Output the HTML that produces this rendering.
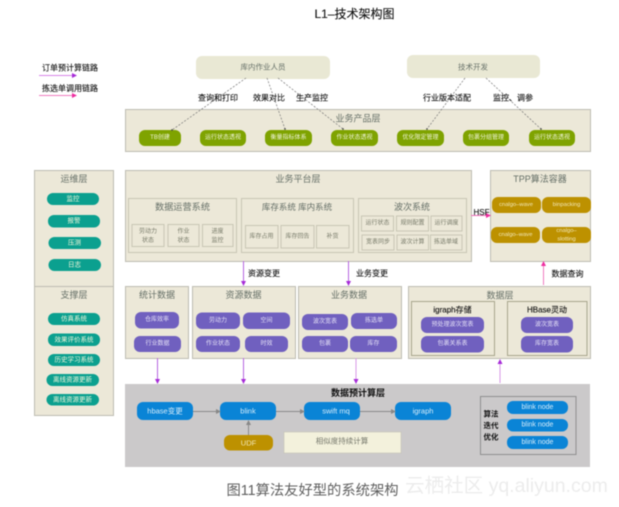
<!DOCTYPE html>
<html><head><meta charset="utf-8"><style>
html,body{margin:0;padding:0;background:#fff;width:619px;height:507px;overflow:hidden}
svg{display:block;filter:blur(.4px)}
text{font-family:"Liberation Sans","Noto Sans CJK SC",sans-serif;text-anchor:middle;dominant-baseline:central}
.b{fill:#ece8d8;stroke:#bdbcb2;stroke-width:1}
.i{fill:#ece8d8;stroke:#c8c6b4;stroke-width:1}
.h{fill:#667068}
.k{fill:#111;stroke:#111;stroke-width:.12}
.w{fill:#f0f5da}
.dash{stroke:#777;stroke-width:.7;stroke-dasharray:2 1.5;fill:none}
</style></head><body>
<svg width="619" height="507" viewBox="0 0 619 507" xmlns="http://www.w3.org/2000/svg">
<defs>
<marker id="mp" markerWidth="5" markerHeight="5" refX="4" refY="2.5" orient="auto"><path d="M0 0L5 2.5L0 5z" fill="#a62bd8"/></marker>
<marker id="mk" markerWidth="5" markerHeight="5" refX="4" refY="2.5" orient="auto"><path d="M0 0L5 2.5L0 5z" fill="#ee2ea0"/></marker>
<marker id="mg" markerWidth="5" markerHeight="5" refX="4" refY="2.5" orient="auto"><path d="M0 0L5 2.5L0 5z" fill="#888"/></marker>
<marker id="md" markerWidth="3" markerHeight="3" refX="1.5" refY="1.5"><circle cx="1.5" cy="1.5" r="1.2" fill="#444"/></marker>
</defs>

<text x="354.500" y="14" font-size="12" class="k">L1–技术架构图</text>

<text x="70" y="68" font-size="8" class="k">订单预计算链路</text>
<line x1="39" y1="75.500" x2="76" y2="75.500" stroke="#d884ea" stroke-width="1" marker-end="url(#mp)"/>
<text x="70" y="88.500" font-size="8" class="k">拣选单调用链路</text>
<line x1="39" y1="95.500" x2="76" y2="95.500" stroke="#f07cc0" stroke-width="1" marker-end="url(#mk)"/>

<rect x="196" y="56" width="134" height="23" rx="6" fill="#e9e8d4"/>
<text x="263" y="67" font-size="7.500" class="h">库内作业人员</text>
<rect x="407" y="55" width="133" height="23" rx="6" fill="#e9e8d4"/>
<text x="473" y="67" font-size="7.500" class="h">技术开发</text>

<rect x="125.500" y="109.500" width="465" height="42" class="b"/>
<text x="358" y="118.500" font-size="9" class="h">业务产品层</text>
<g fill="#7fa300">
<rect x="139" y="130" width="42" height="16" rx="6"/>
<rect x="200" y="130" width="46" height="16" rx="6"/>
<rect x="265" y="130" width="47" height="16" rx="6"/>
<rect x="331" y="130" width="47" height="16" rx="6"/>
<rect x="397" y="130" width="47" height="16" rx="6"/>
<rect x="463" y="130" width="46" height="16" rx="6"/>
<rect x="529" y="130" width="46" height="16" rx="6"/>
</g>
<g font-size="6">
<text x="160" y="138" class="w">TB创建</text>
<text x="223" y="138" class="w">运行状态透视</text>
<text x="288.500" y="138" class="w">衡量指标体系</text>
<text x="354.500" y="138" class="w">作业状态透视</text>
<text x="420.500" y="138" class="w">优化限定管理</text>
<text x="486" y="138" class="w">包裹分组管理</text>
<text x="552" y="138" class="w">运行状态透视</text>
</g>

<line x1="246" y1="78" x2="172" y2="130" class="dash" marker-end="url(#md)"/>
<line x1="267" y1="78" x2="285" y2="129" class="dash" marker-end="url(#md)"/>
<line x1="278" y1="78" x2="343" y2="129" class="dash" marker-end="url(#md)"/>
<line x1="465" y1="78" x2="427" y2="129" class="dash" marker-end="url(#md)"/>
<line x1="486" y1="78" x2="541" y2="129" class="dash" marker-end="url(#md)"/>

<g font-size="8">
<text x="218" y="98" class="k">查询和打印</text>
<text x="269" y="98" class="k">效果对比</text>
<text x="312" y="98" class="k">生产监控</text>
<text x="447" y="98" class="k">行业版本适配</text>
<text x="513" y="98" class="k">监控、调参</text>
</g>

<rect x="34.500" y="170.500" width="79" height="116" class="b"/>
<rect x="34.500" y="286.500" width="79" height="129" class="b"/>
<text x="74" y="179" font-size="9" class="h">运维层</text>
<text x="74" y="295" font-size="9" class="h">支撑层</text>
<g fill="#0ba08f">
<rect x="47" y="193" width="52" height="12" rx="6"/>
<rect x="48" y="215" width="52" height="12.500" rx="6"/>
<rect x="48.500" y="237" width="52.500" height="12" rx="6"/>
<rect x="48.500" y="259" width="52.500" height="12" rx="6"/>
<rect x="48" y="313" width="52" height="12" rx="6"/>
<rect x="48" y="333.500" width="52" height="12.500" rx="6"/>
<rect x="48" y="354" width="52" height="12" rx="6"/>
<rect x="46.500" y="374" width="52.500" height="12" rx="6"/>
<rect x="46.500" y="394" width="52.500" height="11.500" rx="6"/>
</g>
<g font-size="6.500">
<text x="73" y="199" class="w">监控</text>
<text x="74" y="221" class="w">报警</text>
<text x="74.500" y="243" class="w">压测</text>
<text x="74.500" y="265" class="w">日志</text>
<text x="74" y="319" class="w">仿真系统</text>
<text x="74" y="340" class="w">效果评价系统</text>
<text x="74" y="360" class="w">历史学习系统</text>
<text x="72.500" y="380" class="w">离线资源更新</text>
<text x="72.500" y="400" class="w">离线资源更新</text>
</g>

<rect x="125.500" y="170.500" width="346" height="91" class="b"/>
<text x="298" y="179" font-size="9" class="h">业务平台层</text>
<g>
<rect x="128.500" y="198.500" width="108" height="54" class="i"/>
<rect x="241.500" y="198.500" width="112" height="54" class="i"/>
<rect x="358.500" y="198.500" width="108" height="54" class="i"/>
<rect x="132" y="224.500" width="32" height="22" class="i"/>
<rect x="168" y="224.500" width="31" height="22" class="i"/>
<rect x="202.500" y="224.500" width="30.500" height="22" class="i"/>
<rect x="245.500" y="225.500" width="32.500" height="22.500" class="i"/>
<rect x="281" y="225.500" width="33" height="22.500" class="i"/>
<rect x="316.500" y="225.500" width="32.500" height="22.500" class="i"/>
<rect x="361.500" y="216" width="32" height="15" class="i"/>
<rect x="396.500" y="216" width="32" height="15" class="i"/>
<rect x="431" y="216" width="31" height="15" class="i"/>
<rect x="362" y="235" width="32" height="15" class="i"/>
<rect x="397" y="235" width="31.500" height="15" class="i"/>
<rect x="430.500" y="235" width="31.500" height="15" class="i"/>
</g>
<text x="182.500" y="207" font-size="9.200" class="h">数据运营系统</text>
<text x="297" y="207" font-size="8.500" class="h">库存系统 库内系统</text>
<text x="412" y="207" font-size="9" class="h">波次系统</text>
<g font-size="6" fill="#777a69">
<text x="148" y="232">劳动力</text><text x="148" y="241">状态</text>
<text x="183.500" y="232">作业</text><text x="183.500" y="241">状态</text>
<text x="217.500" y="232">进度</text><text x="217.500" y="241">监控</text>
<text x="261.500" y="237">库存占用</text>
<text x="297.500" y="237">库存回告</text>
<text x="332.500" y="237">补货</text>
<text x="377.500" y="223.500">运行状态</text>
<text x="412.500" y="223.500">规则配置</text>
<text x="446.500" y="223.500">运行调度</text>
<text x="378" y="242.500">宽表同步</text>
<text x="412.500" y="242.500">波次计算</text>
<text x="446" y="242.500">拣选单域</text>
</g>

<rect x="490.500" y="170.500" width="100" height="91" class="b"/>
<text x="540" y="179" font-size="9" class="h">TPP算法容器</text>
<g fill="#bd9100">
<rect x="492" y="197" width="49" height="16" rx="6"/>
<rect x="542" y="197" width="49" height="16" rx="6"/>
<rect x="491" y="227" width="49" height="16" rx="6"/>
<rect x="542" y="227" width="49" height="16" rx="6"/>
</g>
<g font-size="5.800" fill="#f2e8b8">
<text x="516" y="205">cnalgo–wave</text>
<text x="566.500" y="205">binpacking</text>
<text x="515.500" y="235">cnalgo–wave</text>
<text x="566.500" y="231">cnalgo–</text>
<text x="566.500" y="239.500">slotting</text>
</g>

<line x1="471" y1="215.500" x2="490" y2="215.500" stroke="#ee6cb8" stroke-width="1" marker-end="url(#mk)"/>
<text x="481.500" y="212.500" font-size="8" class="k">HSF</text>

<line x1="243.500" y1="261" x2="243.500" y2="285" stroke="#b666e0" stroke-width="1" marker-end="url(#mp)"/>
<text x="264" y="273.500" font-size="8" class="k">资源变更</text>
<line x1="348.500" y1="261" x2="348.500" y2="285" stroke="#b666e0" stroke-width="1" marker-end="url(#mp)"/>
<text x="372" y="273.500" font-size="8" class="k">业务变更</text>
<line x1="543.500" y1="285" x2="543.500" y2="262" stroke="#f07cc0" stroke-width="1" marker-end="url(#mk)"/>
<text x="567.500" y="274" font-size="8" class="k">数据查询</text>

<rect x="125.500" y="286.500" width="63" height="72" class="b"/>
<rect x="192.500" y="286.500" width="103" height="72" class="b"/>
<rect x="298.500" y="286.500" width="103" height="72" class="b"/>
<rect x="408.500" y="286.500" width="182" height="72" class="b"/>
<g font-size="9">
<text x="157" y="295" class="h">统计数据</text>
<text x="243.500" y="295" class="h">资源数据</text>
<text x="349" y="295" class="h">业务数据</text>
<text x="500" y="295.500" class="h">数据层</text>
</g>
<rect x="411.500" y="301.500" width="83" height="54" fill="none" stroke="#a8a68c"/>
<rect x="507.500" y="301.500" width="79.500" height="54" fill="none" stroke="#a8a68c"/>
<text x="452.500" y="310" font-size="8" class="k">igraph存储</text>
<text x="547" y="310" font-size="8" class="k">HBase灵动</text>
<g fill="#7060bf">
<rect x="135" y="312" width="44" height="16.500" rx="6"/>
<rect x="134" y="336" width="47" height="16" rx="6"/>
<rect x="196" y="312.500" width="44" height="16.500" rx="6"/>
<rect x="243" y="312.500" width="47" height="16.500" rx="6"/>
<rect x="196" y="336" width="44" height="16" rx="6"/>
<rect x="245" y="336" width="43" height="16" rx="6"/>
<rect x="302" y="314" width="46" height="16" rx="6"/>
<rect x="351" y="313" width="46" height="16" rx="6"/>
<rect x="302" y="336" width="46" height="16" rx="6"/>
<rect x="350" y="336" width="47" height="16" rx="6"/>
<rect x="421" y="317" width="63" height="16" rx="6"/>
<rect x="421" y="336" width="63" height="16.500" rx="6"/>
<rect x="521" y="317" width="52" height="16" rx="6"/>
<rect x="521" y="336" width="52" height="16.500" rx="6"/>
</g>
<g font-size="6" fill="#e4e0f6">
<text x="157" y="320">仓库效率</text>
<text x="157.500" y="344">行业数据</text>
<text x="218" y="321">劳动力</text>
<text x="266.500" y="321">空间</text>
<text x="218" y="344">作业状态</text>
<text x="266.500" y="344">时效</text>
<text x="325" y="322">波次宽表</text>
<text x="374" y="321">拣选单</text>
<text x="325" y="344">包裹</text>
<text x="373.500" y="344">库存</text>
<text x="452.500" y="325">预处理波次宽表</text>
<text x="452.500" y="344">包裹关系表</text>
<text x="547" y="325">波次宽表</text>
<text x="547" y="344">库存宽表</text>
</g>

<line x1="157.500" y1="358" x2="157.500" y2="383" stroke="#b666e0" stroke-width="1" marker-end="url(#mp)"/>
<line x1="243.500" y1="358" x2="243.500" y2="383" stroke="#b666e0" stroke-width="1" marker-end="url(#mp)"/>
<line x1="356" y1="358" x2="356" y2="383" stroke="#d89ae8" stroke-width="1" marker-end="url(#mp)"/>
<line x1="500" y1="383" x2="500" y2="360" stroke="#d89ae8" stroke-width="1" marker-end="url(#mp)"/>

<rect x="125" y="384" width="465" height="83" fill="#cbc9ca"/>
<text x="358" y="393" font-size="9" font-weight="bold" fill="#111">数据预计算层</text>
<g fill="#0a84d6">
<rect x="137" y="402" width="56" height="18" rx="6"/>
<rect x="220" y="402" width="56" height="18" rx="6"/>
<rect x="304" y="402" width="56" height="18" rx="6"/>
<rect x="395" y="402" width="56" height="18" rx="6"/>
</g>
<g font-size="7.500" fill="#d6ecfa">
<text x="165" y="411">hbase变更</text>
<text x="248" y="411">blink</text>
<text x="336" y="411">swift mq</text>
<text x="423" y="411">igraph</text>
</g>
<g stroke="#8a8a8a" stroke-width="1">
<line x1="193" y1="411.500" x2="220" y2="411.500" marker-end="url(#mg)"/>
<line x1="276" y1="411.500" x2="304" y2="411.500" marker-end="url(#mg)"/>
<line x1="360" y1="411.500" x2="395" y2="411.500" marker-end="url(#mg)"/>
<line x1="248.500" y1="435" x2="248.500" y2="421" marker-end="url(#mg)"/>
</g>
<rect x="224" y="435" width="49" height="15.500" rx="6" fill="#bd9100"/>
<text x="248.500" y="443" font-size="7.500" fill="#f2e8b8">UDF</text>
<rect x="284" y="432" width="117" height="21" fill="#f3f1dc" stroke="#c2c0b0" stroke-width=".5"/>
<text x="342" y="441" font-size="7.500" fill="#76786c">相似度持续计算</text>

<rect x="480.500" y="396.500" width="95.500" height="58" fill="none" stroke="#8f8f8f"/>
<g font-size="7.500" font-weight="bold" fill="#111">
<text x="491" y="414">算法</text>
<text x="491" y="425.500">迭代</text>
<text x="491" y="437">优化</text>
</g>
<g fill="#0a84d6">
<rect x="507" y="401" width="61" height="13" rx="6"/>
<rect x="507" y="419" width="61" height="12.500" rx="6"/>
<rect x="507" y="436" width="61" height="13" rx="6"/>
</g>
<g font-size="7" fill="#d6ecfa">
<text x="537.500" y="407.500">blink node</text>
<text x="537.500" y="425">blink node</text>
<text x="537.500" y="442.500">blink node</text>
</g>

<text x="312.500" y="491" font-size="14.300" fill="#5f5f5f">图11算法友好型的系统架构</text>
<text x="506.500" y="486" font-size="19.500" fill="#ececec">云栖社区 yq.aliyun.com</text>
</svg>
</body></html>
